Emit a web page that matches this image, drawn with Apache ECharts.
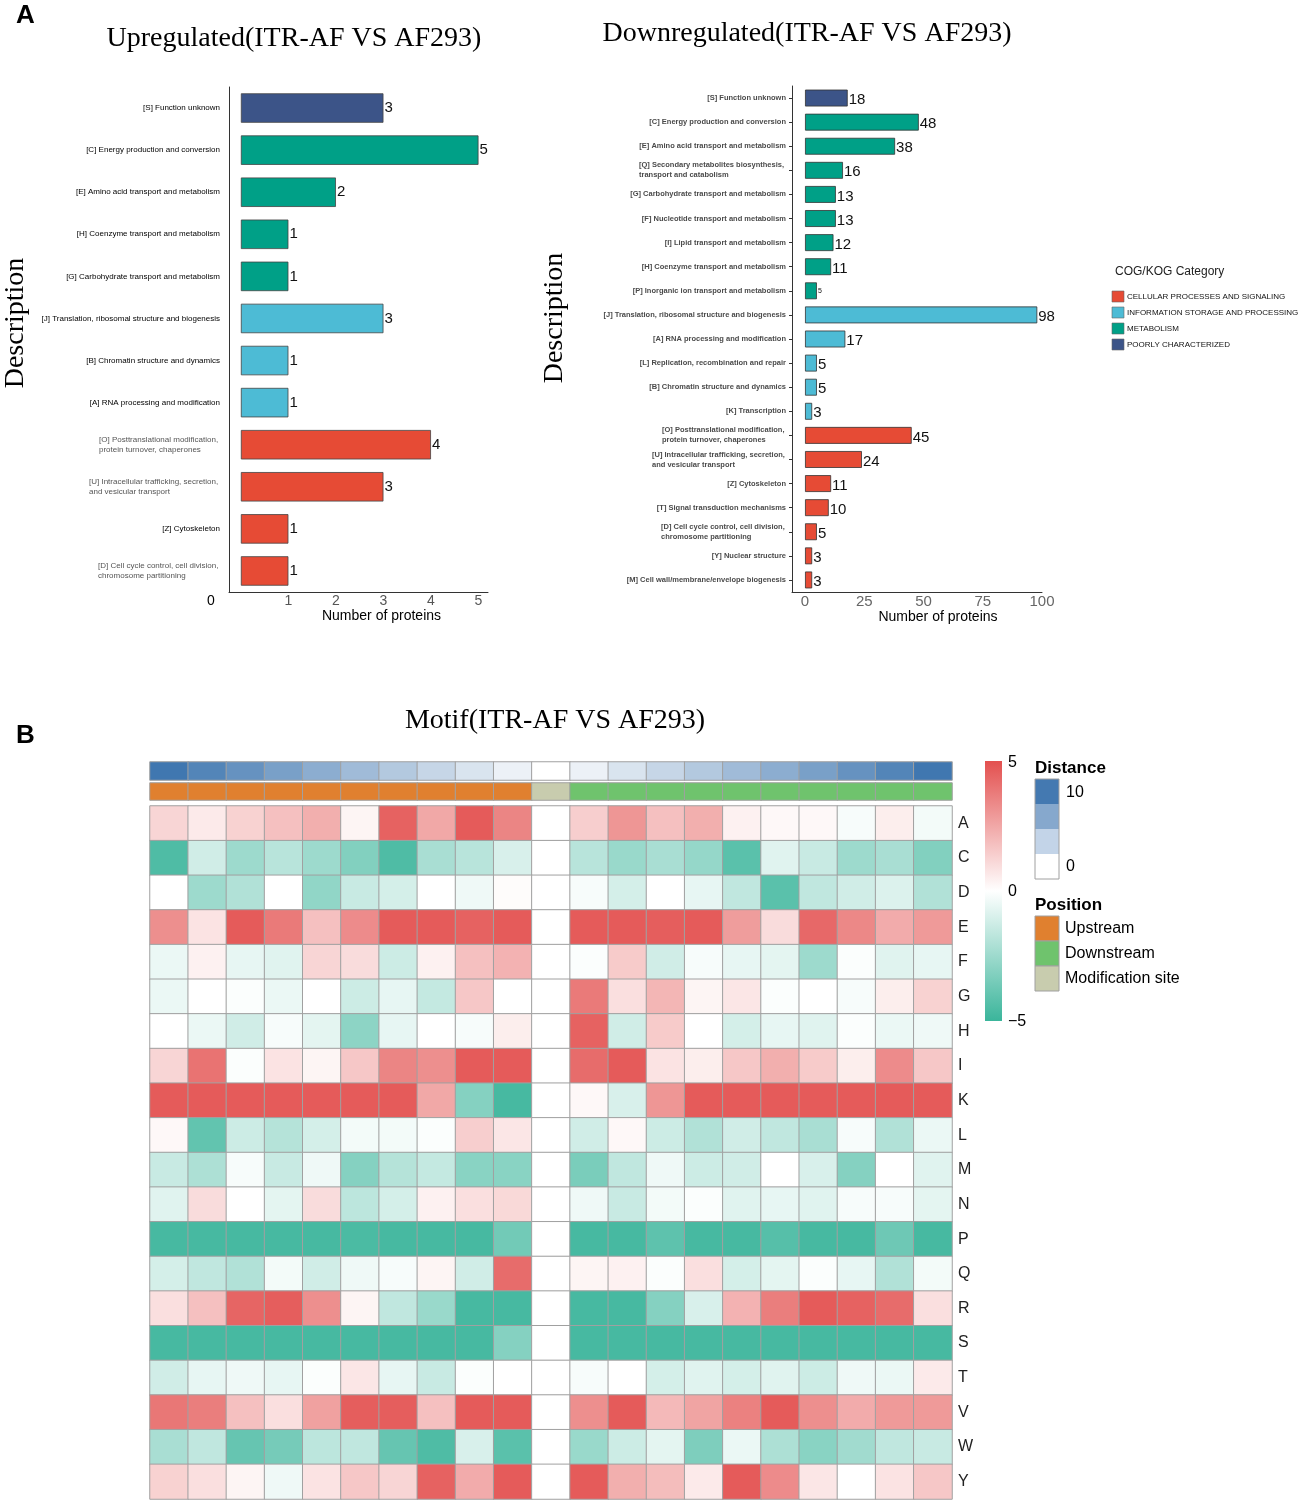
<!DOCTYPE html>
<html>
<head>
<meta charset="utf-8">
<script src="https://cdn.jsdelivr.net/npm/echarts@6/dist/echarts.min.js"></script>
<style>
html,body{margin:0;padding:0;background:#fff;}
#chart{width:1305px;height:1504px;}
</style>
</head>
<body>
<div id="chart"></div>
<script>
// ---------- Panel A data ----------
const upCategories = [
  '[S] Function unknown',
  '[C] Energy production and conversion',
  '[E] Amino acid transport and metabolism',
  '[H] Coenzyme transport and metabolism',
  '[G] Carbohydrate transport and metabolism',
  '[J] Translation, ribosomal structure and biogenesis',
  '[B] Chromatin structure and dynamics',
  '[A] RNA processing and modification',
  '[O] Posttranslational modification,\nprotein turnover, chaperones',
  '[U] Intracellular trafficking, secretion,\nand vesicular transport',
  '[Z] Cytoskeleton',
  '[D] Cell cycle control, cell division,\nchromosome partitioning'
];
const upValues = [3, 5, 2, 1, 1, 3, 1, 1, 4, 3, 1, 1];
const upGroups = ['POORLY CHARACTERIZED', 'METABOLISM', 'METABOLISM', 'METABOLISM', 'METABOLISM',
  'INFORMATION STORAGE AND PROCESSING', 'INFORMATION STORAGE AND PROCESSING', 'INFORMATION STORAGE AND PROCESSING',
  'CELLULAR PROCESSES AND SIGNALING', 'CELLULAR PROCESSES AND SIGNALING', 'CELLULAR PROCESSES AND SIGNALING', 'CELLULAR PROCESSES AND SIGNALING'];

const downCategories = [
  '[S] Function unknown',
  '[C] Energy production and conversion',
  '[E] Amino acid transport and metabolism',
  '[Q] Secondary metabolites biosynthesis,\ntransport and catabolism',
  '[G] Carbohydrate transport and metabolism',
  '[F] Nucleotide transport and metabolism',
  '[I] Lipid transport and metabolism',
  '[H] Coenzyme transport and metabolism',
  '[P] Inorganic ion transport and metabolism',
  '[J] Translation, ribosomal structure and biogenesis',
  '[A] RNA processing and modification',
  '[L] Replication, recombination and repair',
  '[B] Chromatin structure and dynamics',
  '[K] Transcription',
  '[O] Posttranslational modification,\nprotein turnover, chaperones',
  '[U] Intracellular trafficking, secretion,\nand vesicular transport',
  '[Z] Cytoskeleton',
  '[T] Signal transduction mechanisms',
  '[D] Cell cycle control, cell division,\nchromosome partitioning',
  '[Y] Nuclear structure',
  '[M] Cell wall/membrane/envelope biogenesis'
];
const downValues = [18, 48, 38, 16, 13, 13, 12, 11, 5, 98, 17, 5, 5, 3, 45, 24, 11, 10, 5, 3, 3];
const downGroups = ['POORLY CHARACTERIZED',
  'METABOLISM', 'METABOLISM', 'METABOLISM', 'METABOLISM', 'METABOLISM', 'METABOLISM', 'METABOLISM', 'METABOLISM',
  'INFORMATION STORAGE AND PROCESSING', 'INFORMATION STORAGE AND PROCESSING', 'INFORMATION STORAGE AND PROCESSING',
  'INFORMATION STORAGE AND PROCESSING', 'INFORMATION STORAGE AND PROCESSING',
  'CELLULAR PROCESSES AND SIGNALING', 'CELLULAR PROCESSES AND SIGNALING', 'CELLULAR PROCESSES AND SIGNALING',
  'CELLULAR PROCESSES AND SIGNALING', 'CELLULAR PROCESSES AND SIGNALING', 'CELLULAR PROCESSES AND SIGNALING',
  'CELLULAR PROCESSES AND SIGNALING'];

const cogLegendNames = ['CELLULAR PROCESSES AND SIGNALING', 'INFORMATION STORAGE AND PROCESSING', 'METABOLISM', 'POORLY CHARACTERIZED'];
const upTickValues = [1, 2, 3, 4, 5];
const downTickValues = [0, 25, 50, 75, 100];

// ---------- Panel B data ----------
const motifPositions = ['-10','-9','-8','-7','-6','-5','-4','-3','-2','-1','0','1','2','3','4','5','6','7','8','9','10'];
const distanceValues = [10, 9, 8, 7, 6, 5, 4, 3, 2, 1, 0, 1, 2, 3, 4, 5, 6, 7, 8, 9, 10];
const positionTypes = ['Upstream','Upstream','Upstream','Upstream','Upstream','Upstream','Upstream','Upstream','Upstream','Upstream',
  'Modification site',
  'Downstream','Downstream','Downstream','Downstream','Downstream','Downstream','Downstream','Downstream','Downstream','Downstream'];
const positionLegendNames = ['Upstream', 'Downstream', 'Modification site'];
const aminoAcids = ['A','C','D','E','F','G','H','I','K','L','M','N','P','Q','R','S','T','V','W','Y'];

const rowA = [1.2, 0.6, 1.3, 1.8, 2.3, 0.3, 4.5, 2.5, 4.7, 3.5, 0, 1.4, 3.0, 1.8, 2.3, 0.4, 0.2, 0.2, -0.2, 0.5, -0.3];
const rowC = [-4.5, -1.2, -2.5, -1.8, -2.5, -3.2, -4.5, -2.2, -1.8, -1.0, 0, -1.8, -2.6, -2.2, -2.7, -4.2, -0.8, -1.4, -2.5, -2.2, -3.2];
const rowD = [0, -2.5, -2.0, 0, -2.8, -1.4, -1.1, 0, -0.4, 0.1, 0, -0.2, -1.1, 0, -0.6, -1.6, -4.2, -1.6, -1.2, -0.9, -2.0];
const rowE = [3.2, 0.8, 4.7, 3.8, 1.8, 3.3, 4.7, 4.7, 4.5, 4.7, 0, 4.7, 4.7, 4.6, 4.7, 2.8, 1.0, 4.3, 3.4, 2.4, 2.9];
const rowF = [-0.5, 0.4, -0.6, -0.8, 1.2, 1.0, -1.3, 0.4, 1.8, 2.2, 0, -0.1, 1.5, -1.2, -0.2, -0.6, -0.7, -2.5, -0.1, -0.8, -0.6];
const rowG = [-0.5, 0, -0.1, -0.5, 0, -1.3, -0.6, -1.5, 1.6, 0, 0, 3.8, 0.9, 2.1, 0.3, 0.7, -0.1, 0, -0.2, 0.5, 1.3];
const rowH = [0, -0.5, -1.2, -0.2, -0.7, -2.9, -0.6, 0, -0.2, 0.5, 0, 4.5, -1.2, 1.5, 0, -1.1, -0.6, -0.8, -0.1, -0.5, -0.4];
const rowI = [1.2, 4.0, -0.1, 0.8, 0.3, 1.6, 3.5, 3.2, 4.7, 4.7, 0, 4.2, 4.7, 0.8, 0.5, 1.6, 2.3, 1.5, 0.5, 3.3, 1.6];
const rowK = [4.7, 4.7, 4.7, 4.7, 4.7, 4.7, 4.7, 2.5, -3.1, -4.7, 0, 0.2, -1.0, 3.0, 4.7, 4.7, 4.7, 4.7, 4.7, 4.7, 4.7];
const rowL = [0.2, -4.0, -1.3, -1.9, -1.1, -0.3, -0.3, -0.1, 1.4, 0.7, 0, -1.2, 0.2, -1.3, -2.0, -1.2, -1.6, -2.2, -0.2, -2.0, -0.5];
const rowM = [-1.4, -2.1, -0.2, -1.4, -0.4, -3.1, -1.9, -1.5, -3.0, -3.0, 0, -3.4, -1.6, -0.4, -1.3, -1.2, 0, -1.0, -3.1, 0, -0.8];
const rowN = [-0.8, 1.0, 0, -0.7, 1.0, -1.7, -1.1, 0.4, 0.9, 1.1, 0, -0.4, -1.4, -0.3, -0.1, -0.8, -0.6, -0.8, -0.2, -0.2, -0.7];
const rowP = [-4.7, -4.7, -4.7, -4.7, -4.7, -4.6, -4.7, -4.7, -4.7, -3.6, 0, -4.7, -4.7, -4.1, -4.7, -4.7, -4.3, -4.7, -4.7, -3.7, -4.7];
const rowQ = [-1.1, -1.6, -2.0, -0.3, -1.2, -0.4, -0.2, 0.3, -1.2, 4.2, 0, 0.3, 0.4, -0.1, 0.9, -1.1, -0.7, -0.1, -0.6, -2.0, -0.3];
const rowR = [0.9, 1.8, 4.4, 4.6, 3.2, 0.3, -1.6, -2.6, -4.7, -4.7, 0, -4.7, -4.7, -3.1, -1.0, 2.2, 3.7, 4.7, 4.5, 4.2, 0.9];
const rowS = [-4.7, -4.7, -4.7, -4.7, -4.7, -4.7, -4.7, -4.7, -4.7, -3.1, 0, -4.7, -4.7, -4.7, -4.7, -4.7, -4.7, -4.7, -4.7, -4.7, -4.7];
const rowT = [-1.2, -0.6, -0.4, -0.6, -0.1, 0.7, -0.6, -1.4, -0.1, 0, 0, -0.2, 0, -1.1, -0.8, -1.1, -0.8, -1.3, -0.4, -0.5, 0.6];
const rowV = [3.9, 3.7, 1.8, 0.9, 2.7, 4.6, 4.6, 1.8, 4.7, 4.7, 0, 3.2, 4.7, 2.0, 2.6, 3.6, 4.7, 3.2, 2.4, 2.9, 2.9];
const rowW = [-2.2, -1.6, -3.9, -3.5, -1.7, -1.6, -3.9, -4.5, -1.0, -4.2, 0, -2.6, -1.3, -0.7, -3.3, -0.5, -2.1, -3.0, -2.4, -1.6, -1.4];
const rowY = [1.3, 0.9, 0.3, -0.4, 0.8, 1.6, 1.2, 4.5, 2.4, 4.7, 0, 4.7, 2.3, 1.9, 0.6, 4.7, 3.3, 0.7, 0, 0.8, 1.6];
const motifMatrix = [rowA, rowC, rowD, rowE, rowF, rowG, rowH, rowI, rowK, rowL, rowM, rowN, rowP, rowQ, rowR, rowS, rowT, rowV, rowW, rowY];

// ---------- styles ----------
const cogColors = {
  'CELLULAR PROCESSES AND SIGNALING': '#E64B35',
  'INFORMATION STORAGE AND PROCESSING': '#4DBBD5',
  'METABOLISM': '#00A087',
  'POORLY CHARACTERIZED': '#3C5488'
};
const positionColors = ['#E0802F', '#6FC36D', '#C8CCAE'];
const serif = "'Liberation Serif', 'DejaVu Serif', serif";
const sans = "'Liberation Sans', Arial, sans-serif";

// multi-line labels: lines left-aligned inside a right-anchored block
const measureCtx = document.createElement('canvas').getContext('2d');
function makeRich(cats, font, color, weight) {
  const rich = {};
  cats.forEach((c, i) => {
    if (c.indexOf('\n') < 0) return;
    measureCtx.font = (weight ? weight + ' ' : '') + font;
    const w = Math.max.apply(null, c.split('\n').map(l => measureCtx.measureText(l).width));
    rich['m' + i] = { width: Math.ceil(w) + 1, align: 'left', color: color };
  });
  return rich;
}
function makeFormatter(cats) {
  return function (v) {
    return v.indexOf('\n') >= 0 ? '{m' + cats.indexOf(v) + '|' + v + '}' : v;
  };
}

const upData = upValues.map((v, i) => ({ value: v, itemStyle: { color: cogColors[upGroups[i]] } }));
const downData = downValues.map((v, i) => {
  const d = { value: v, itemStyle: { color: cogColors[downGroups[i]] } };
  if (downCategories[i].indexOf('[P]') === 0) d.label = { fontSize: 7, offset: [0, 0] };
  return d;
});

const distData = distanceValues.map((v, i) => [i, 0, v]);
const posData = positionTypes.map((t, i) => [i, 0, positionLegendNames.indexOf(t)]);
const motifData = [];
motifMatrix.forEach((row, r) => row.forEach((v, c) => motifData.push([c, r, v])));

// ---------- graphics (titles, legends) ----------
const graphics = [
  { type: 'text', left: 16, top: 3, style: { text: 'A', font: 'bold 26px ' + sans, fill: '#000' } },
  { type: 'text', left: 16, top: 723, style: { text: 'B', font: 'bold 26px ' + sans, fill: '#000' } },
  { type: 'text', x: 294, y: 39, style: { text: 'Upregulated(ITR-AF VS AF293)', font: '28px ' + serif, fill: '#000', align: 'center', verticalAlign: 'middle' } },
  { type: 'text', x: 807, y: 34, style: { text: 'Downregulated(ITR-AF VS AF293)', font: '28px ' + serif, fill: '#000', align: 'center', verticalAlign: 'middle' } },
  { type: 'text', x: 555, y: 721, style: { text: 'Motif(ITR-AF VS AF293)', font: '28px ' + serif, fill: '#000', align: 'center', verticalAlign: 'middle' } },
  { type: 'text', x: 16, y: 323, rotation: Math.PI / 2, style: { text: 'Description', font: '28px ' + serif, fill: '#000', align: 'center', verticalAlign: 'middle' } },
  { type: 'text', x: 555, y: 318, rotation: Math.PI / 2, style: { text: 'Description', font: '28px ' + serif, fill: '#000', align: 'center', verticalAlign: 'middle' } },
  { type: 'text', x: 211, y: 601, style: { text: '0', font: '14px ' + sans, fill: '#000', align: 'center', verticalAlign: 'middle' } },
  { type: 'text', left: 1115, top: 266, style: { text: 'COG/KOG Category', font: '12px ' + sans, fill: '#222' } }
];
cogLegendNames.forEach((n, i) => {
  const y = 291 + i * 16;
  graphics.push({ type: 'rect', shape: { x: 1112, y: y, width: 12, height: 11 }, style: { fill: cogColors[n], stroke: '#666', lineWidth: 0.6 } });
  graphics.push({ type: 'text', x: 1127, y: y + 6, style: { text: n, font: '8px ' + sans, fill: '#111', verticalAlign: 'middle' } });
});
// heatmap colour bar
graphics.push({ type: 'rect', shape: { x: 985, y: 761, width: 17, height: 260 },
  style: { fill: new echarts.graphic.LinearGradient(0, 0, 0, 1, [
    { offset: 0, color: '#E3504F' }, { offset: 0.5, color: '#FFFFFF' }, { offset: 1, color: '#3BB59B' }]) } });
[['5', 763], ['0', 892], ['\u22125', 1022]].forEach(t => {
  graphics.push({ type: 'text', x: 1008, y: t[1], style: { text: t[0], font: '16px ' + sans, fill: '#000', verticalAlign: 'middle' } });
});
// Distance legend
graphics.push({ type: 'text', x: 1035, y: 768, style: { text: 'Distance', font: 'bold 17px ' + sans, fill: '#000', verticalAlign: 'middle' } });
['#4479B1', '#86A8CD', '#C3D4E8', '#FFFFFF'].forEach((c, i) => {
  graphics.push({ type: 'rect', shape: { x: 1035, y: 779 + i * 25, width: 24, height: 25 }, style: { fill: c } });
});
graphics.push({ type: 'rect', shape: { x: 1035, y: 779, width: 24, height: 100 }, style: { fill: 'none', stroke: '#a0a0a0', lineWidth: 1 } });
graphics.push({ type: 'text', x: 1066, y: 793, style: { text: '10', font: '16px ' + sans, fill: '#000', verticalAlign: 'middle' } });
graphics.push({ type: 'text', x: 1066, y: 867, style: { text: '0', font: '16px ' + sans, fill: '#000', verticalAlign: 'middle' } });
// Position legend
graphics.push({ type: 'text', x: 1035, y: 905, style: { text: 'Position', font: 'bold 17px ' + sans, fill: '#000', verticalAlign: 'middle' } });
positionLegendNames.forEach((n, i) => {
  graphics.push({ type: 'rect', shape: { x: 1035, y: 916 + i * 25, width: 24, height: 25 }, style: { fill: positionColors[i], stroke: '#a0a0a0', lineWidth: 1 } });
  graphics.push({ type: 'text', x: 1065, y: 929 + i * 25, style: { text: n, font: '16px ' + sans, fill: '#000', verticalAlign: 'middle' } });
});

const chart = echarts.init(document.getElementById('chart'), null, { renderer: 'canvas' });
const option = {
  backgroundColor: '#fff',
  animation: false,
  textStyle: { fontFamily: sans },
  grid: [
    { left: 229, top: 87, width: 259, height: 505 },
    { left: 792, top: 86, width: 250, height: 506 },
    { left: 150, top: 762, width: 802, height: 18 },
    { left: 150, top: 783, width: 802, height: 17 },
    { left: 150, top: 806, width: 802, height: 693 }
  ],
  xAxis: [
    { gridIndex: 0, type: 'value', min: -0.25, max: 5.2,
      axisLine: { show: true, lineStyle: { color: '#333', width: 1 } },
      axisTick: { show: false },
      axisLabel: { customValues: upTickValues, color: '#555', fontSize: 14, margin: 2 },
      splitLine: { show: false },
      name: 'Number of proteins', nameLocation: 'middle', nameGap: 11,
      nameTextStyle: { fontSize: 14, color: '#000', padding: [0, 0, 0, 46] } },
    { gridIndex: 1, type: 'value', min: -5.5, max: 100,
      axisLine: { show: true, lineStyle: { color: '#333', width: 1 } },
      axisTick: { show: false },
      axisLabel: { customValues: downTickValues, color: '#666', fontSize: 15, margin: 2 },
      splitLine: { show: false },
      name: 'Number of proteins', nameLocation: 'middle', nameGap: 11,
      nameTextStyle: { fontSize: 14, color: '#000', padding: [0, 0, 0, 42] } },
    { gridIndex: 2, type: 'category', data: motifPositions, show: false },
    { gridIndex: 3, type: 'category', data: motifPositions, show: false },
    { gridIndex: 4, type: 'category', data: motifPositions, show: false }
  ],
  yAxis: [
    { gridIndex: 0, type: 'category', data: upCategories, inverse: true,
      axisLine: { show: true, onZero: false, lineStyle: { color: '#333', width: 1 } },
      axisTick: { show: false },
      axisLabel: { fontSize: 8, margin: 9, lineHeight: 10,
        color: (v) => (v.indexOf('\n') >= 0 ? '#555' : '#000'),
        formatter: makeFormatter(upCategories),
        rich: makeRich(upCategories, '8px ' + sans, '#555') } },
    { gridIndex: 1, type: 'category', data: downCategories, inverse: true,
      axisLine: { show: true, onZero: false, lineStyle: { color: '#333', width: 1 } },
      axisTick: { show: true, length: 3, alignWithLabel: true, lineStyle: { color: '#333' } },
      axisLabel: { fontSize: 7.5, fontWeight: 'bold', color: '#4a4a4a', margin: 6, lineHeight: 10,
        formatter: makeFormatter(downCategories),
        rich: makeRich(downCategories, '7.5px ' + sans, '#4a4a4a', 'bold') } },
    { gridIndex: 2, type: 'category', data: ['Distance'], show: false },
    { gridIndex: 3, type: 'category', data: ['Position'], show: false },
    { gridIndex: 4, type: 'category', data: aminoAcids, inverse: true, position: 'right',
      axisLine: { show: false }, axisTick: { show: false },
      axisLabel: { fontSize: 16, color: '#222', margin: 6, align: 'left' } }
  ],
  visualMap: [
    { type: 'continuous', show: false, min: -5, max: 5, seriesIndex: [4],
      inRange: { color: ['#3BB59B', '#FFFFFF', '#E3504F'] } },
    { type: 'continuous', show: false, min: 0, max: 10, seriesIndex: [2],
      inRange: { color: ['#FFFFFF', '#4077B0'] } },
    { type: 'piecewise', show: false, seriesIndex: [3],
      pieces: positionLegendNames.map((n, i) => ({ value: i, color: positionColors[i] })) }
  ],
  series: [
    { type: 'bar', xAxisIndex: 0, yAxisIndex: 0, data: upData, barWidth: '70%',
      itemStyle: { borderColor: '#444', borderWidth: 0.8 },
      label: { show: true, position: 'right', distance: 1, fontSize: 15, color: '#111' } },
    { type: 'bar', xAxisIndex: 1, yAxisIndex: 1, data: downData, barWidth: '70%',
      itemStyle: { borderColor: '#333', borderWidth: 0.8 },
      label: { show: true, position: 'right', distance: 1, fontSize: 15, color: '#111', offset: [0, 2] } },
    { type: 'heatmap', xAxisIndex: 2, yAxisIndex: 2, data: distData,
      itemStyle: { borderColor: '#a0a0a0', borderWidth: 1 }, emphasis: { disabled: true } },
    { type: 'heatmap', xAxisIndex: 3, yAxisIndex: 3, data: posData,
      itemStyle: { borderColor: '#a0a0a0', borderWidth: 1 }, emphasis: { disabled: true } },
    { type: 'heatmap', xAxisIndex: 4, yAxisIndex: 4, data: motifData,
      itemStyle: { borderColor: '#a0a0a0', borderWidth: 1 }, emphasis: { disabled: true } }
  ],
  graphic: graphics
};
chart.setOption(option);
</script>
</body>
</html>
